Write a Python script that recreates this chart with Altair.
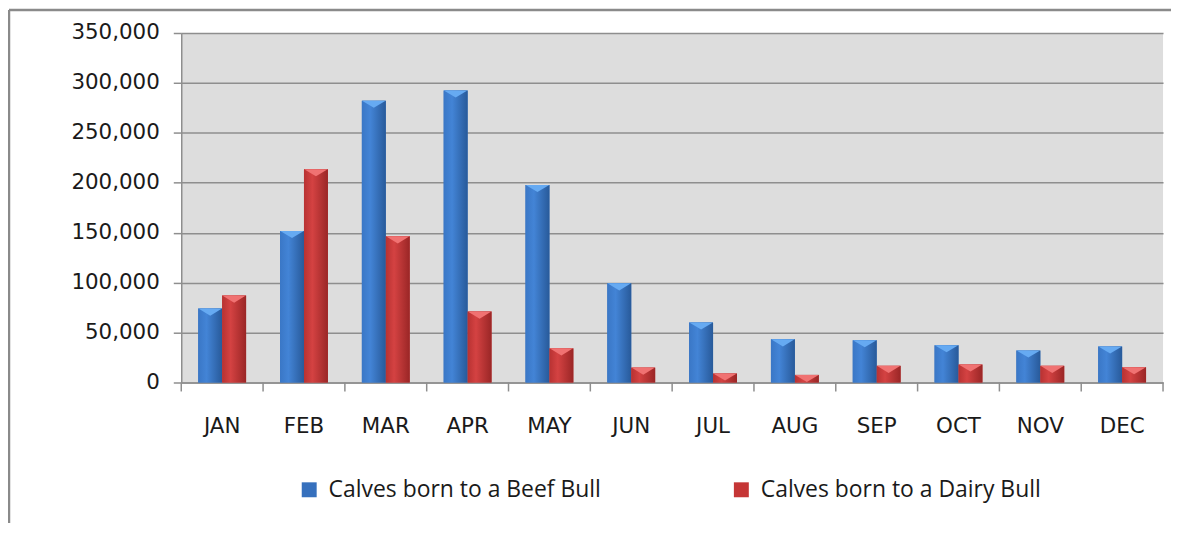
import altair as alt
import pandas as pd

months = ["JAN", "FEB", "MAR", "APR", "MAY", "JUN", "JUL", "AUG", "SEP", "OCT", "NOV", "DEC"]
beef = [74000, 151700, 282200, 292500, 197900, 99300, 60100, 43200, 42300, 37300, 32000, 36000]
dairy = [87000, 213500, 146400, 71000, 34200, 14900, 9000, 7600, 16700, 18000, 16700, 15300]
series_names = ["Calves born to a Beef Bull", "Calves born to a Dairy Bull"]
y_ticks = [0, 50000, 100000, 150000, 200000, 250000, 300000, 350000]

rows = []
for m, b, d in zip(months, beef, dairy):
    rows.append({"month": m, "series": series_names[0], "value": b})
    rows.append({"month": m, "series": series_names[1], "value": d})
df = pd.DataFrame(rows)

W, H = 986, 351
GRAY = "#8e8e8e"
TXT = "#1a1a1a"

x_enc = alt.X("month:N", sort=months,
              scale=alt.Scale(paddingInner=0, paddingOuter=0),
              axis=alt.Axis(title=None, labelAngle=0, ticks=False, grid=False,
                            domainColor=GRAY, domainWidth=1.5,
                            labelFont="DejaVu Sans", labelFontSize=21.5,
                            labelColor=TXT, labelPadding=33))
xo_enc = alt.XOffset("series:N", sort=series_names,
                     scale=alt.Scale(paddingInner=0, paddingOuter=0.71))
y_enc = alt.Y("value:Q",
              scale=alt.Scale(domain=[0, 350000], nice=False),
              axis=alt.Axis(title=None, values=y_ticks, format=",.0f",
                            grid=True, gridColor=GRAY, gridWidth=1.5,
                            tickColor=GRAY, tickSize=8, tickWidth=1.5,
                            domainColor=GRAY, domainWidth=1.5,
                            labelFont="DejaVu Sans", labelFontSize=21.5,
                            labelColor=TXT, labelPadding=14))

base = alt.Chart(df)

bars = base.mark_bar().encode(
    x=x_enc, xOffset=xo_enc, y=y_enc,
    color=alt.Color("series:N", sort=series_names,
                    scale=alt.Scale(domain=series_names, range=["#3670bd", "#c53636"]),
                    legend=alt.Legend(title=None, orient="none", direction="horizontal",
                                      legendX=117, legendY=447,
                                      symbolType="square", symbolSize=225,
                                      symbolStrokeWidth=0, labelOffset=8,
                                      columnPadding=129,
                                      labelFont="Open Sans", labelFontSize=23,
                                      labelColor=TXT, labelLimit=400)),
)

def grad(c0, c1, c2):
    return alt.Gradient(gradient="linear", x1=0, x2=1, y1=0, y2=0,
                        stops=[alt.GradientStop(offset=0, color=c0),
                               alt.GradientStop(offset=0.35, color=c1),
                               alt.GradientStop(offset=1, color=c2)])

beef_grad = base.transform_filter(alt.datum.series == series_names[0]).mark_bar(
    fill=grad("#3a77c6", "#4384d6", "#285a9a")).encode(x=x_enc, xOffset=xo_enc, y=y_enc)
dairy_grad = base.transform_filter(alt.datum.series == series_names[1]).mark_bar(
    fill=grad("#b83232", "#d44242", "#9a2626")).encode(x=x_enc, xOffset=xo_enc, y=y_enc)

bevels = base.mark_point(shape="M -1 0 L 1 0 L 0 0.6 Z", filled=True, size=560,
                         opacity=1, strokeWidth=0).encode(
    x=x_enc, xOffset=xo_enc, y=y_enc,
    fill=alt.Fill("series:N", sort=series_names,
                  scale=alt.Scale(domain=series_names, range=["#66aaf2", "#f07272"]),
                  legend=None),
)

ticks_df = pd.DataFrame({"month": months})
x_ticks = alt.Chart(ticks_df).mark_rule(color=GRAY, strokeWidth=1.5).encode(
    x=alt.X("month:N", sort=months, bandPosition=0),
    y=alt.value(H), y2=alt.value(H + 9))
end_tick = alt.Chart(alt.Data(values=[{"a": 1}])).mark_rule(color=GRAY, strokeWidth=1.5).encode(
    x=alt.value(W), y=alt.value(H), y2=alt.value(H + 9))

frame = alt.Data(values=[{"a": 1}])
border_left = alt.Chart(frame).mark_rule(color="#8a8a8a", strokeWidth=2.5).encode(
    x=alt.value(-173), y=alt.value(-23), y2=alt.value(H + 160))
border_top = alt.Chart(frame).mark_rule(color="#8a8a8a", strokeWidth=2.5).encode(
    x=alt.value(-173), x2=alt.value(W + 20), y=alt.value(-23))

chart = alt.layer(bars, beef_grad, dairy_grad, bevels, x_ticks, end_tick,
                  border_left, border_top).properties(
    width=W, height=H,
    autosize=alt.AutoSizeParams(type="none"),
    padding={"left": 174, "top": 24, "right": 8, "bottom": 140},
    background="white",
).configure_view(fill="#dddddd", strokeWidth=0)

chart.save("out.html", embed_options={"renderer": "svg", "actions": False})
